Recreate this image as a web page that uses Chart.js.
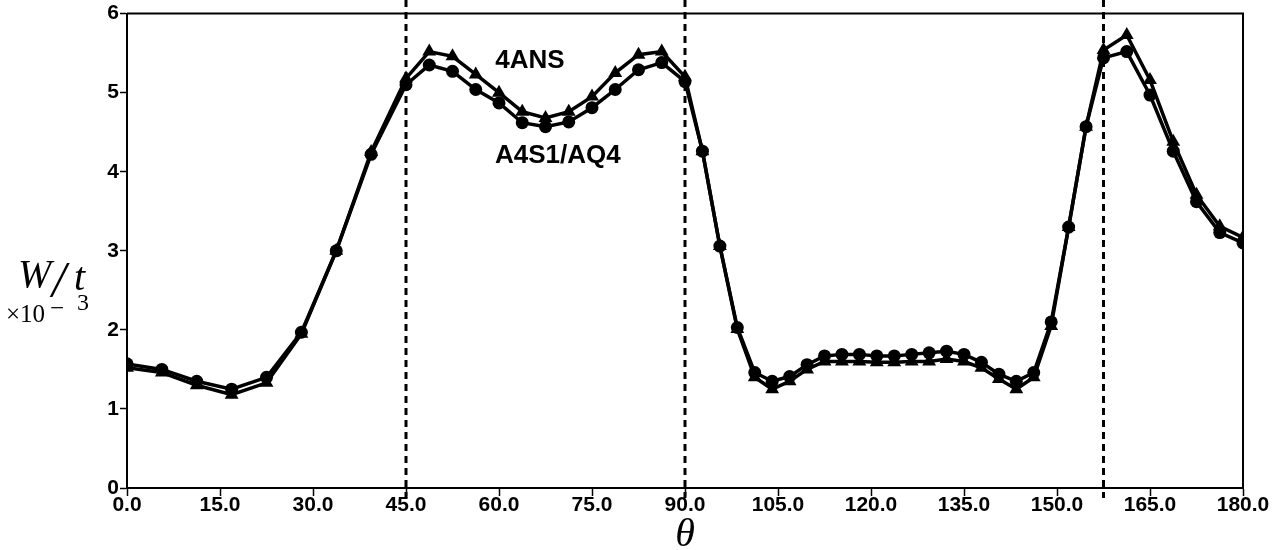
<!DOCTYPE html>
<html>
<head>
<meta charset="utf-8">
<script src="https://cdn.jsdelivr.net/npm/chart.js@4/dist/chart.umd.min.js"></script>
<style>
  html, body { margin: 0; padding: 0; background: #fff; }
  #wrap { width: 1278px; height: 550px; position: relative; }
</style>
</head>
<body>
<div id="wrap"><canvas id="chart"></canvas></div>
<script>
// theta values (deg) of the computed points
const angles = [
  0, 5.625, 11.25, 16.875, 22.5, 28.125, 33.75, 39.375, 45,
  48.75, 52.5, 56.25, 60, 63.75, 67.5, 71.25, 75, 78.75, 82.5, 86.25, 90,
  92.8125, 95.625, 98.4375, 101.25, 104.0625, 106.875, 109.6875, 112.5, 115.3125,
  118.125, 120.9375, 123.75, 126.5625, 129.375, 132.1875, 135, 137.8125, 140.625,
  143.4375, 146.25, 149.0625, 151.875, 154.6875, 157.5,
  161.25, 165, 168.75, 172.5, 176.25, 180
];

// A4S1/AQ4 (circles)
const a4s1Values = [
  1.57, 1.50, 1.35, 1.25, 1.40, 1.97, 3.00, 4.22, 5.10,
  5.35, 5.27, 5.04, 4.87, 4.62, 4.57, 4.63, 4.81, 5.04, 5.29, 5.38, 5.14,
  4.26, 3.06, 2.03, 1.46, 1.35, 1.41, 1.56, 1.67, 1.69,
  1.69, 1.67, 1.67, 1.69, 1.71, 1.73, 1.69, 1.59, 1.44,
  1.35, 1.46, 2.10, 3.30, 4.57, 5.44,
  5.52, 4.97, 4.26, 3.62, 3.23, 3.10
];

// 4ANS (triangles)
const ansValues = [
  1.52, 1.46, 1.30, 1.18, 1.33, 1.95, 3.00, 4.25, 5.18,
  5.52, 5.46, 5.23, 5.00, 4.76, 4.68, 4.76, 4.95, 5.25, 5.48, 5.52, 5.20,
  4.26, 3.06, 2.01, 1.40, 1.25, 1.35, 1.50, 1.60, 1.60,
  1.60, 1.59, 1.59, 1.60, 1.60, 1.63, 1.60, 1.52, 1.38,
  1.25, 1.40, 2.05, 3.30, 4.57, 5.54,
  5.73, 5.16, 4.38, 3.71, 3.31, 3.17
];

// vertical dashed markers
const boundaryAngles = [45, 90, 157.5];

const seriesLabels = ['A4S1/AQ4', '4ANS'];

const toPoints = (vals) => angles.map((a, i) => ({ x: a, y: vals[i] }));

const sansBold = (size) => `bold ${size}px "Liberation Sans", Arial, sans-serif`;
const serif = (style, size) => `${style} ${size}px "Liberation Serif", "Times New Roman", serif`;

const decorPlugin = {
  id: 'decor',
  beforeDatasetsDraw(chart) {
    const { ctx, chartArea, scales } = chart;
    ctx.save();
    ctx.strokeStyle = '#000';
    ctx.lineWidth = 3;
    ctx.setLineDash([7, 5]);
    boundaryAngles.forEach(a => {
      const x = scales.x.getPixelForValue(a);
      ctx.beginPath();
      ctx.moveTo(x, 0);
      ctx.lineTo(x, chartArea.bottom + 10);
      ctx.stroke();
    });
    ctx.restore();
  },
  afterDraw(chart) {
    const { ctx, chartArea, scales } = chart;
    ctx.save();
    // top and right frame
    ctx.strokeStyle = '#000';
    ctx.lineWidth = 2;
    ctx.beginPath();
    ctx.moveTo(chartArea.left, chartArea.top);
    ctx.lineTo(chartArea.right, chartArea.top);
    ctx.lineTo(chartArea.right, chartArea.bottom);
    ctx.stroke();

    // series labels
    ctx.fillStyle = '#000';
    ctx.textAlign = 'center';
    ctx.textBaseline = 'middle';
    ctx.font = sansBold(26);
    ctx.fillText(seriesLabels[1], scales.x.getPixelForValue(65), scales.y.getPixelForValue(5.4));
    ctx.fillText(seriesLabels[0], scales.x.getPixelForValue(69.5), scales.y.getPixelForValue(4.2));

    // x axis title
    ctx.font = serif('italic', 40);
    ctx.textBaseline = 'alphabetic';
    ctx.fillText('θ', (chartArea.left + chartArea.right) / 2, 546);

    // y axis title: W/t  x10^-3
    ctx.textAlign = 'left';
    ctx.font = serif('italic', 40);
    ctx.fillText('W', 18, 287);
    ctx.fillText('t', 74, 290);
    ctx.font = serif('italic', 50);
    ctx.fillText('/', 52, 296);
    ctx.font = serif('normal', 25);
    ctx.fillText('×10', 6, 322);
    ctx.fillText('−', 50, 316);
    ctx.font = serif('normal', 24);
    ctx.fillText('3', 77, 310);
    ctx.restore();
  }
};

new Chart(document.getElementById('chart'), {
  type: 'line',
  data: {
    datasets: [
      {
        label: seriesLabels[0],
        data: toPoints(a4s1Values),
        borderColor: '#000',
        backgroundColor: '#000',
        borderWidth: 3.5,
        pointStyle: 'circle',
        pointRadius: 6.5,
        pointBorderWidth: 0,
        tension: 0
      },
      {
        label: seriesLabels[1],
        data: toPoints(ansValues),
        borderColor: '#000',
        backgroundColor: '#000',
        borderWidth: 3.5,
        pointStyle: 'triangle',
        pointRadius: 8,
        pointBorderWidth: 0,
        tension: 0
      }
    ]
  },
  options: {
    responsive: true,
    maintainAspectRatio: false,
    animation: false,
    layout: { padding: { top: 13, right: 35, left: 0, bottom: 0 } },
    plugins: {
      legend: { display: false },
      tooltip: { enabled: false }
    },
    scales: {
      x: {
        type: 'linear',
        min: 0,
        max: 180,
        afterFit: (scale) => { scale.height = 62; },
        border: { color: '#000', width: 2 },
        grid: { drawOnChartArea: false, color: '#000', tickLength: 8, tickWidth: 1.5 },
        ticks: {
          stepSize: 15,
          color: '#000',
          padding: -3,
          maxRotation: 0,
          font: { family: '"Liberation Sans", Arial, sans-serif', size: 21, weight: 'bold' },
          callback: (v) => Number(v).toFixed(1)
        }
      },
      y: {
        min: 0,
        max: 6,
        afterFit: (scale) => { scale.width = 127; },
        border: { color: '#000', width: 2 },
        grid: { drawOnChartArea: false, color: '#000', tickLength: 7, tickWidth: 1.5 },
        ticks: {
          stepSize: 1,
          color: '#000',
          padding: 1,
          font: { family: '"Liberation Sans", Arial, sans-serif', size: 21, weight: 'bold' }
        }
      }
    }
  },
  plugins: [decorPlugin]
});
</script>
</body>
</html>
